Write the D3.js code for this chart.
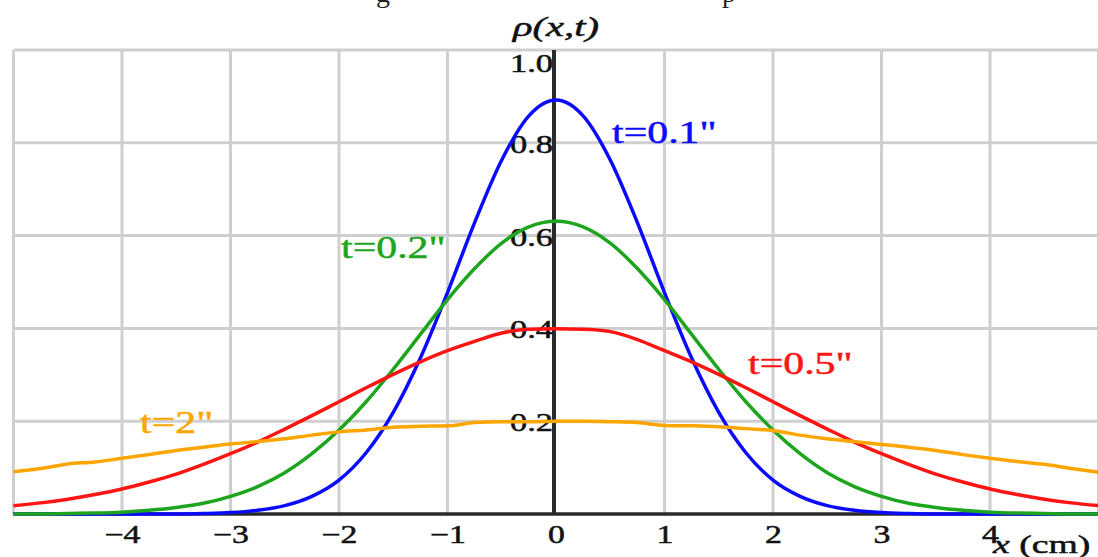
<!DOCTYPE html>
<head>
  <title>Diffusion profiles</title>
</head>
<style>
html, body {
  width: 100%;
  height: 100%;
  padding: 0;
  margin: 0;
  background: #ffffff;
}
svg text {
  font-family: "Liberation Serif", "DejaVu Serif", serif;
  stroke-width: 0.5px;
}
.grid line {
  stroke: #cfcfcf;
  stroke-width: 3px;
}
.curve {
  fill: none;
  stroke-width: 3.5px;
  stroke-linejoin: round;
}
</style>

<svg id="chart" width="1098" height="557"></svg>

<script src="https://d3js.org/d3.v7.min.js"></script>
<script>
var xs = [-5, -4.75, -4.5, -4.25, -4, -3.75, -3.5, -3.25, -3, -2.75, -2.5, -2.25, -2, -1.75, -1.5, -1.25, -1, -0.75, -0.5, -0.25,
  0, 0.25, 0.5, 0.75, 1, 1.25, 1.5, 1.75, 2, 2.25, 2.5, 2.75, 3, 3.25, 3.5, 3.75, 4, 4.25, 4.5, 4.75, 5];

// rho(x,t) for each time
var rhoT01 = [0, 0, 0, 0, 0, 0, 0, 0.001, 0.003, 0.008, 0.018, 0.038, 0.073, 0.132, 0.219, 0.336, 0.477, 0.628, 0.763, 0.858,
  0.892, 0.858, 0.763, 0.628, 0.477, 0.336, 0.219, 0.132, 0.073, 0.038, 0.018, 0.008, 0.003, 0.001, 0, 0, 0, 0, 0, 0, 0];
var rhoT02 = [0, 0, 0.001, 0.002, 0.004, 0.008, 0.014, 0.023, 0.038, 0.059, 0.089, 0.130, 0.181, 0.242, 0.312, 0.387, 0.462, 0.529, 0.584, 0.619,
  0.631, 0.619, 0.584, 0.529, 0.462, 0.387, 0.312, 0.242, 0.181, 0.130, 0.089, 0.059, 0.038, 0.023, 0.014, 0.008, 0.004, 0.002, 0.001, 0, 0];
var rhoT05 = [0.018, 0.024, 0.032, 0.042, 0.054, 0.069, 0.086, 0.107, 0.130, 0.155, 0.183, 0.212, 0.242, 0.272, 0.301, 0.328, 0.352, 0.372, 0.390, 0.398,
  0.399, 0.398, 0.393, 0.376, 0.352, 0.328, 0.301, 0.272, 0.242, 0.212, 0.183, 0.155, 0.130, 0.107, 0.086, 0.069, 0.054, 0.042, 0.032, 0.024, 0.018];
var rhoT2 = [0.091, 0.098, 0.108, 0.112, 0.120, 0.128, 0.137, 0.144, 0.151, 0.156, 0.162, 0.170, 0.177, 0.181, 0.187, 0.189, 0.190, 0.197, 0.199, 0.199,
  0.200, 0.200, 0.199, 0.197, 0.191, 0.190, 0.188, 0.184, 0.180, 0.170, 0.162, 0.156, 0.150, 0.144, 0.137, 0.128, 0.120, 0.113, 0.107, 0.098, 0.090];

var seriesNames = ["t=0.1\"", "t=0.2\"", "t=0.5\"", "t=2\""];
var seriesColors = ["#0a0aff", "#1ea51e", "#ff1414", "#ffa500"];
var seriesValues = [rhoT01, rhoT02, rhoT05, rhoT2];

var xTicks = [-4, -3, -2, -1, 0, 1, 2, 3, 4];
var xGrid = [-5, -4, -3, -2, -1, 1, 2, 3, 4, 5];
var yTicks = [0.2, 0.4, 0.6, 0.8, 1.0];

var svg = d3.select("#chart");

var x = d3.scaleLinear().domain([-5, 5]).range([13.5, 1098.5]);
var y = d3.scaleLinear().domain([0, 1]).range([514, 50]);

// the original picture is stretched sideways, so text is too
function stretch(sel, k) {
  sel.each(function () {
    var w = this.getComputedTextLength();
    d3.select(this).attr("textLength", w * k).attr("lengthAdjust", "spacingAndGlyphs");
  });
}

// cut-off caption line at the very top
svg.append("text").attr("x", 376).attr("y", 2).attr("font-size", 28).attr("fill", "#222").text("g");
svg.append("text").attr("x", 722).attr("y", 2).attr("font-size", 28).attr("fill", "#222").text("p");

// grid
var grid = svg.append("g").attr("class", "grid");
grid.selectAll("line.v")
  .data(xGrid)
  .enter().append("line")
    .attr("class", "v")
    .attr("x1", function (d) { return x(d); })
    .attr("x2", function (d) { return x(d); })
    .attr("y1", y(1))
    .attr("y2", y(0));
grid.selectAll("line.h")
  .data(yTicks)
  .enter().append("line")
    .attr("class", "h")
    .attr("x1", x(-5))
    .attr("x2", x(5))
    .attr("y1", function (d) { return y(d); })
    .attr("y2", function (d) { return y(d); });

// axes lines
svg.append("line")
  .attr("x1", x(-5)).attr("x2", x(5))
  .attr("y1", y(0)).attr("y2", y(0))
  .attr("stroke", "#2a2a2a").attr("stroke-width", 3.5);
svg.append("line")
  .attr("x1", x(0) - 2).attr("x2", x(0) - 2)
  .attr("y1", y(1)).attr("y2", y(0))
  .attr("stroke", "#2a2a2a").attr("stroke-width", 4);

// tick labels via the axis generators
var xAxis = svg.append("g")
  .attr("transform", "translate(0," + y(0) + ")")
  .call(d3.axisBottom(x).tickValues(xTicks).tickSize(0).tickPadding(0).tickFormat(d3.format("d")));
xAxis.select(".domain").remove();
xAxis.selectAll("text")
  .attr("y", 29)
  .attr("dy", null)
  .attr("fill", "#111")
  .attr("stroke", "#111")
  .attr("font-size", 25)
  .attr("font-family", "Liberation Serif")
  .call(stretch, 1.35);

var yAxis = svg.append("g")
  .attr("transform", "translate(" + (x(0) + 1) + ",0)")
  .call(d3.axisLeft(y).tickValues(yTicks).tickSize(0).tickPadding(0).tickFormat(d3.format(".1f")));
yAxis.select(".domain").remove();
yAxis.selectAll("text")
  .attr("x", -4)
  .attr("dy", function (d) { return d === 1 ? "0.86em" : "0.38em"; })
  .attr("fill", "#111")
  .attr("stroke", "#111")
  .attr("font-size", 25)
  .attr("font-family", "Liberation Serif")
  .call(stretch, 1.38);

// curves
var line = d3.line()
  .x(function (d, i) { return x(xs[i]); })
  .y(function (d) { return y(d); })
  .curve(d3.curveMonotoneX);

svg.selectAll("path.curve")
  .data(seriesValues)
  .enter().append("path")
    .attr("class", "curve")
    .attr("stroke", function (d, i) { return seriesColors[i]; })
    .attr("d", line);

// curve labels
var labelPos = [[612, 143], [341, 258], [748, 374], [140, 433]];
svg.selectAll("text.lbl")
  .data(seriesNames)
  .enter().append("text")
    .attr("class", "lbl")
    .attr("x", function (d, i) { return labelPos[i][0]; })
    .attr("y", function (d, i) { return labelPos[i][1]; })
    .attr("font-size", 31)
    .attr("fill", function (d, i) { return seriesColors[i]; })
    .attr("stroke", function (d, i) { return seriesColors[i]; })
    .text(function (d) { return d; })
    .call(stretch, 1.35);

// axis titles
svg.append("text")
  .attr("x", 556).attr("y", 36)
  .attr("text-anchor", "middle")
  .attr("font-size", 28)
  .attr("font-style", "italic")
  .attr("fill", "#111")
  .attr("stroke", "#111")
  .text("ρ(x,t)")
  .call(stretch, 1.45);

var xt = svg.append("text")
  .attr("x", 993).attr("y", 553)
  .attr("font-size", 26)
  .attr("fill", "#111")
  .attr("stroke", "#111");
xt.append("tspan").attr("font-style", "italic").text("x");
xt.append("tspan").text(" (cm)");
xt.call(stretch, 1.45);
</script>
